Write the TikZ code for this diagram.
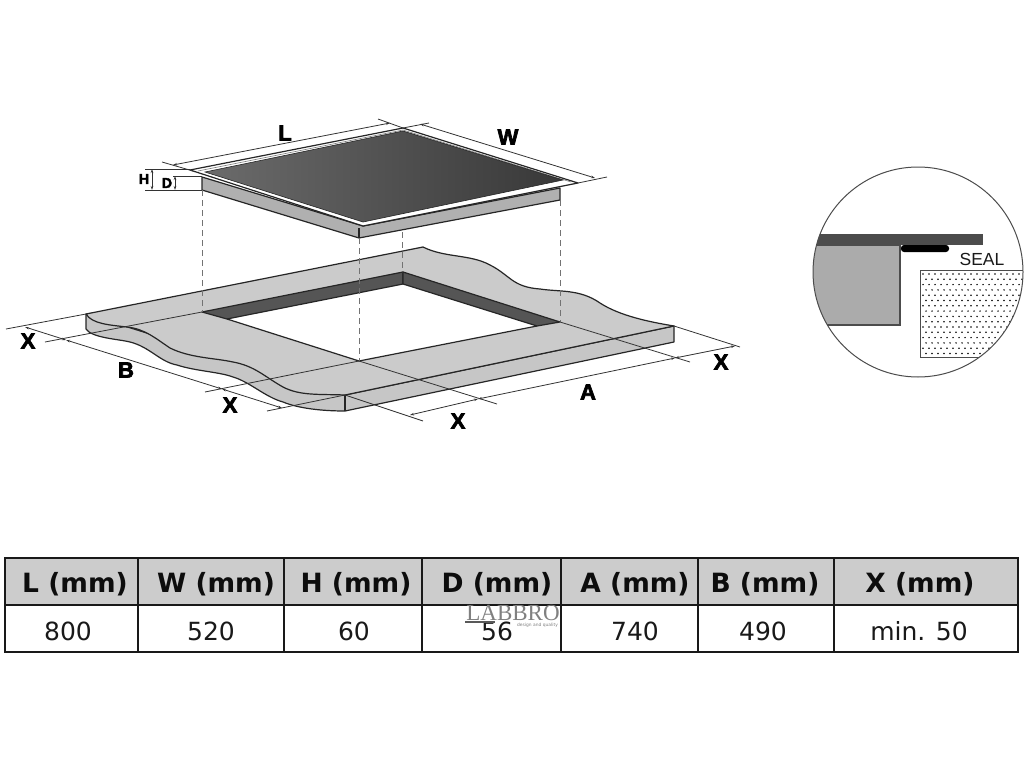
\documentclass[tikz,border=0pt]{standalone}
\usepackage{fontspec}
\setmainfont{DejaVu Sans}
\newfontfamily\sealfont{Liberation Sans}
\newfontfamily\markfont{Liberation Serif}
\newfontfamily\dimfont[BoldFeatures={FakeBold=3}]{Liberation Sans}
\usepackage{tikz}
\usetikzlibrary{arrows.meta}
\definecolor{topgray}{HTML}{CBCBCB}
\definecolor{edgegray}{HTML}{C6C6C6}
\definecolor{sidegray}{HTML}{B0B0B0}
\definecolor{wallgray}{HTML}{555555}
\definecolor{headgray}{HTML}{CCCCCC}
\tikzset{
  outline/.style={draw=black!85,line width=1.2pt,line join=round},
  dimline/.style={draw=black!80,line width=0.8pt},
  dimarrow/.style={dimline,{Stealth[length=4pt,width=2.5pt]}-{Stealth[length=4pt,width=2.5pt]}},
  dropline/.style={draw=black!55,line width=1pt,dash pattern=on 6pt off 4pt},
  dimtext/.style={font=\dimfont\bfseries\fontsize{22}{22}\selectfont,text=black,inner sep=0pt},
  smalltext/.style={font=\dimfont\bfseries\fontsize{14}{14}\selectfont,text=black,inner sep=0pt},
  headtext/.style={font=\bfseries\fontsize{26.5}{27}\selectfont,text=black!95},
  cellitem/.style={font=\fontsize{25}{26}\selectfont,text=black!90,inner sep=0pt},
  rule/.style={draw=black!90,line width=1.9pt}
}

\begin{document}
\begin{tikzpicture}[x=1pt,y=-1pt]
  \useasboundingbox (0,0) rectangle (1024,768);

  % countertop
  \draw[outline,fill=edgegray] (86,314) -- (86,329)
    .. controls (92,338) and (118,339) .. (130,342)
    .. controls (150,347) and (160,362) .. (177,365)
    .. controls (195,371) and (220,372) .. (233,377)
    .. controls (250,382) and (265,397) .. (283,402)
    .. controls (300,409) and (325,411) .. (345,411)
    -- (674,342) -- (674,326) -- (345,395) -- cycle;
  \draw[outline,fill=topgray] (86,314) -- (423,247)
    .. controls (445,258) and (470,254) .. (490,265)
    .. controls (510,275) and (512,287) .. (540,289)
    .. controls (560,292) and (580,289) .. (600,303)
    .. controls (620,316) and (650,322) .. (674,326)
    -- (345,395)
    .. controls (320,394) and (300,396) .. (283,387)
    .. controls (265,377) and (255,366) .. (233,362)
    .. controls (215,358) and (190,358) .. (170,348)
    .. controls (155,338) and (145,329) .. (127,327)
    .. controls (110,325) and (92,324) .. (86,314);
  \draw[outline] (345,395) -- (345,411);

  % cut-out
  \fill[white] (227,319) -- (403,284) -- (537,326) -- (359,361) -- cycle;
  \draw[outline,fill=wallgray] (202,312) -- (403,272) -- (403,284) -- (227,319) -- cycle;
  \draw[outline,fill=wallgray] (403,272) -- (560,322) -- (537,326) -- (403,284) -- cycle;
  \draw[outline] (227,319) -- (359,361) -- (537,326);

  % hob
  \draw[outline,fill=sidegray] (202,177) -- (202,190) -- (359,238) -- (560,200) -- (560,188) -- (363,226) -- cycle;
  \draw[outline] (359,238) -- (359,228);
  \draw[outline,fill=white] (190,170) -- (403,128) -- (578,183) -- (363,226) -- cycle;
  \draw[black!50,line width=0.6pt] (198,171) -- (403,130) -- (571,182);
  \shade[left color=black!58,right color=black!78,draw=black!85,line width=0.6pt] (205,172) -- (403,131) -- (563,180) -- (363,222) -- cycle;

  % hob to cut-out
  \draw[dropline] (202,190) -- (202,312);
  \draw[dropline] (359,238) -- (359,361);
  \draw[dropline] (402,232) -- (402,272);
  \draw[dropline] (560,200) -- (560,322);

  % hob dimensions
  \draw[dimline] (162,162) -- (193,171);
  \draw[dimline] (378,119) -- (403,128) -- (429,123);
  \draw[dimline] (578,183) -- (607,177);
  \draw[dimline] (145,169) -- (190,169);
  \draw[dimline] (173,176) -- (202,176);
  \draw[dimline] (145,190) -- (202,190);
  \draw[dimarrow] (173,165) -- (390,123);
  \draw[dimarrow] (420,124) -- (595,178);
  \draw[dimarrow] (152,169) -- (152,190);
  \draw[dimarrow] (175,176) -- (175,190);
  \node[dimtext] (lenL) at (285,133) {L};
  \node[dimtext] (lenW) at (508,137) {W};
  \node[smalltext] (lenH) at (144,179) {H};
  \node[smalltext] (lenD) at (167,183) {D};

  % countertop dimensions
  \draw[dimline] (6,329) -- (86,314);
  \draw[dimline] (45,342) -- (202,312);
  \draw[dimline] (205,392) -- (359,361);
  \draw[dimline] (267,411) -- (345,395);
  \draw[dimline] (674,326) -- (740,347);
  \draw[dimline] (560,322) -- (690,362);
  \draw[dimline] (359,361) -- (497,404);
  \draw[dimline] (345,395) -- (423,421);
  \draw[dimarrow] (25,327) -- (66,340);
  \draw[dimarrow] (66,340) -- (222,389);
  \draw[dimarrow] (222,389) -- (282,408);
  \draw[dimarrow] (410,415) -- (478,399);
  \draw[dimarrow] (478,399) -- (675,358);
  \draw[dimarrow] (675,358) -- (735,346);
  \node[dimtext] (gapXa) at (28,341) {X};
  \node[dimtext] (lenB) at (126,370) {B};
  \node[dimtext] (gapXb) at (230,405) {X};
  \node[dimtext] (lenA) at (588,392) {A};
  \node[dimtext] (gapXc) at (458,421) {X};
  \node[dimtext] (gapXd) at (721,362) {X};

  % detail of the seal
  \begin{scope}
    \clip (918,272) circle [radius=105];
    \draw[line width=1.4pt,draw=black!70,fill=black!33] (800,245) -- (900,245) -- (900,325) -- (800,325) -- cycle;
    \fill[black!70] (800,234) rectangle (983,245);
    \foreach \row in {0,...,15} {
      \pgfmathsetmacro{\shift}{mod(\row,2)*3}
      \foreach \col in {0,...,18} {
        \fill[black] ({923+\shift+\col*6},{274+\row*5.3}) circle [radius=0.85];
      }
    }
    \draw[black!70,line width=0.9pt] (1030,270) -- (920,270) -- (920,357) -- (1030,357);
  \end{scope}
  \fill[black,rounded corners=3pt] (901,245) rectangle (949,252);
  \draw[black!70,line width=1pt] (918,272) circle [radius=105];
  \node[font=\sealfont\fontsize{17.5}{18}\selectfont,text=black!90] (seal) at (982,259) {SEAL};

  % table
  \fill[headgray] (5,558) rectangle (1018,605);
  \draw[rule] (5,558) rectangle (1018,652);
  \draw[rule] (5,605) -- (1018,605);
  \foreach \colx in {138,284,422,561,698,834}
    \draw[rule] (\colx,558) -- (\colx,652);
  \foreach \tname/\tx/\ttext in {headL/75/L (mm),headW/216/W (mm),headH/356/H (mm),headD/497/D (mm),headA/635/A (mm),headB/765/B (mm),headX/920/X (mm)}
    \node[headtext] (\tname) at (\tx,584) {\ttext};
  \foreach \tname/\tx/\ttext in {valL/68/800,valW/211/520,valH/354/60,valD/497/56,valA/635/740,valB/763/490,valX/919/min. 50}
    \node[cellitem] (\tname) at (\tx,631) {\ttext};

  % watermark
  \node[font=\markfont\fontsize{23}{23}\selectfont,text=black!50,inner sep=0pt,text depth=0pt,anchor=base] (mark) at (513,620) {LABBRO};
  \fill[black!65] (465,621) rectangle (495,623);
  \node[font=\fontsize{4.4}{4.4}\selectfont,text=black!50,inner sep=0pt] (markline) at (537.5,625) {design and quality};
\end{tikzpicture}
\end{document}
